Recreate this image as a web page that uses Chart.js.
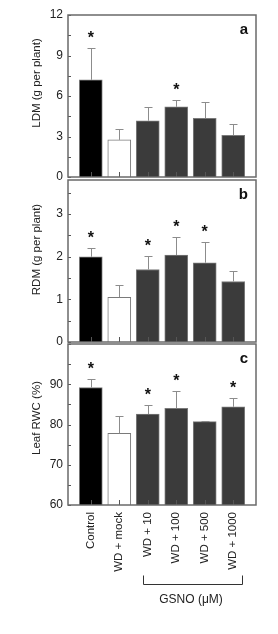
<!DOCTYPE html>
<html><head><meta charset="utf-8">
<script src="https://cdn.jsdelivr.net/npm/chart.js@4"></script>
<style>
html,body{margin:0;padding:0;background:#fff;}
#wrap{position:relative;width:278px;height:634px;overflow:hidden;}
canvas{position:absolute;left:0;}
</style></head><body>
<div id="wrap">
<canvas id="ca" width="278" height="195" style="top:0px;width:278px;height:195px"></canvas>
<canvas id="cb" width="278" height="190" style="top:165px;width:278px;height:190px"></canvas>
<canvas id="cc" width="278" height="304" style="top:330px;width:278px;height:304px"></canvas>
</div>
<script>
const categories = ['Control','WD + mock','WD + 10','WD + 100','WD + 500','WD + 1000'];
const ldmMean = [7.2, 2.75, 4.17, 5.2, 4.35, 3.09];
const ldmErr  = [2.35, 0.8, 1.0, 0.5, 1.18, 0.81];
const ldmSig  = [1, 0, 0, 1, 0, 0];
const ldmTicks = [0, 3, 6, 9, 12];
const rdmMean = [2.0, 1.05, 1.7, 2.04, 1.86, 1.42];
const rdmErr  = [0.21, 0.29, 0.32, 0.42, 0.49, 0.25];
const rdmSig  = [1, 0, 1, 1, 1, 0];
const rdmTicks = [0, 1, 2, 3];
const rwcMean = [89.2, 77.8, 82.6, 84.0, 80.7, 84.4];
const rwcErr  = [2.2, 4.3, 2.2, 4.2, 0.2, 2.3];
const rwcSig  = [1, 0, 1, 1, 0, 1];
const rwcTicks = [60, 70, 80, 90];
const groupLabel = 'GSNO (μM)';

const FONT = "'Liberation Sans', Arial, sans-serif";
const barFill = ['#000000', '#ffffff', '#3b3b3b', '#3b3b3b', '#3b3b3b', '#3b3b3b'];

const annot = {
  id: 'annot',
  afterDatasetsDraw(chart) {
    const p = chart.options.plugins.annot;
    const {ctx, chartArea: a, scales: {x, y}} = chart;
    ctx.save();
    // error bars
    ctx.strokeStyle = '#8c8c8c'; ctx.lineWidth = 1;
    p.mean.forEach((v, i) => {
      const px = Math.round(x.getPixelForValue(i)) + 0.5;
      const y0 = y.getPixelForValue(v), y1 = Math.round(y.getPixelForValue(v + p.err[i])) + 0.5;
      ctx.beginPath(); ctx.moveTo(px, y0); ctx.lineTo(px, y1);
      ctx.moveTo(px - 4, y1); ctx.lineTo(px + 4, y1); ctx.stroke();
    });
    // stars
    ctx.fillStyle = '#111'; ctx.font = 'bold 16px ' + FONT; ctx.textAlign = 'center'; ctx.textBaseline = 'alphabetic';
    p.sig.forEach((s, i) => {
      if (!s) return;
      const px = x.getPixelForValue(i);
      const yt = y.getPixelForValue(p.mean[i] + p.err[i]);
      ctx.fillText('*', px, yt - 5);
    });
    // inward x ticks
    ctx.strokeStyle = '#555'; ctx.lineWidth = 1;
    p.mean.forEach((v, i) => {
      const px = Math.round(x.getPixelForValue(i)) + 0.5;
      ctx.beginPath(); ctx.moveTo(px, a.bottom); ctx.lineTo(px, a.bottom - 5); ctx.stroke();
    });
    // inward y ticks (major + minor)
    const t = p.ticks, step = t[1] - t[0];
    for (let v = y.min; v <= y.max + 1e-9; v += step / 2) {
      const py = Math.round(y.getPixelForValue(v)) + 0.5;
      ctx.beginPath(); ctx.moveTo(a.left, py); ctx.lineTo(a.left + 3, py); ctx.stroke();
    }
    // box
    ctx.strokeStyle = '#6a6a6a'; ctx.lineWidth = 1.5;
    ctx.strokeRect(a.left, a.top, a.right - a.left, a.bottom - a.top);
    // panel letter
    ctx.fillStyle = '#111'; ctx.font = 'bold 15px ' + FONT; ctx.textAlign = 'right';
    ctx.fillText(p.letter, a.right - 8, a.top + 19);
    // y title
    ctx.save();
    ctx.translate(36.5, (a.top + a.bottom) / 2 - p.titleShift);
    ctx.rotate(-Math.PI / 2);
    ctx.font = '11.5px ' + FONT; ctx.fillStyle = '#222'; ctx.textAlign = 'center'; ctx.textBaseline = 'middle';
    ctx.fillText(p.title, 0, 0);
    ctx.restore();
    // group bracket
    if (p.group) {
      const x0 = Math.round(x.getPixelForValue(1.85)) + 0.5, x1 = Math.round(x.getPixelForValue(5.3)) + 0.5;
      const yb = a.bottom + 79.5;
      ctx.strokeStyle = '#333'; ctx.lineWidth = 1;
      ctx.beginPath(); ctx.moveTo(x0, yb - 9); ctx.lineTo(x0, yb); ctx.lineTo(x1, yb); ctx.lineTo(x1, yb - 9); ctx.stroke();
      ctx.font = '12px ' + FONT; ctx.fillStyle = '#222'; ctx.textAlign = 'center'; ctx.textBaseline = 'middle';
      ctx.fillText(p.group, (x0 + x1) / 2 - 2, yb + 15);
    }
    ctx.restore();
  }
};

function makeChart(id, mean, err, sig, ticks, ymin, ymax, letter, title, titleShift, pad, showX) {
  return new Chart(document.getElementById(id), {
    type: 'bar',
    data: {
      datasets: [{
        data: mean.map((v, i) => ({x: i, y: v})),
        backgroundColor: barFill,
        borderColor: '#7a7a7a',
        borderWidth: 1,
        barThickness: 23,
        base: ymin
      }]
    },
    options: {
      responsive: false, animation: false,
      layout: {padding: pad},
      plugins: {
        legend: {display: false}, tooltip: {enabled: false},
        annot: {mean, err, sig, ticks, letter, title, titleShift, group: showX ? groupLabel : null}
      },
      scales: {
        x: {
          type: 'linear', min: -0.8, max: 5.8, offset: false,
          display: showX,
          grid: {display: false, drawTicks: false},
          border: {display: false},
          afterBuildTicks: s => { s.ticks = categories.map((c, i) => ({value: i})); },
          afterFit: s => { s.height = showX ? 129 : 0; },
          ticks: {
            autoSkip: false, minRotation: 90, maxRotation: 90, padding: 7,
            color: '#222', font: {family: FONT, size: 11.5},
            callback: v => categories[v]
          }
        },
        y: {
          min: ymin, max: ymax,
          grid: {display: false, drawTicks: false},
          border: {display: false},
          afterBuildTicks: s => { s.ticks = ticks.map(v => ({value: v})); },
          afterFit: s => { s.width = 68; },
          ticks: {padding: 5, color: '#222', font: {family: FONT, size: 12}}
        }
      }
    },
    plugins: [annot]
  });
}

makeChart('ca', ldmMean, ldmErr, ldmSig, ldmTicks, 0, 12, 'a', 'LDM (g per plant)', 13, {top: 15, bottom: 18, left: 0, right: 22}, false);
makeChart('cb', rdmMean, rdmErr, rdmSig, rdmTicks, 0, 3.8, 'b', 'RDM (g per plant)', 11.5, {top: 15, bottom: 13, left: 0, right: 22}, false);
makeChart('cc', rwcMean, rwcErr, rwcSig, rwcTicks, 60, 100, 'c', 'Leaf RWC (%)', 6.5, {top: 14, bottom: 0, left: 0, right: 22}, true);
</script>
</body></html>
